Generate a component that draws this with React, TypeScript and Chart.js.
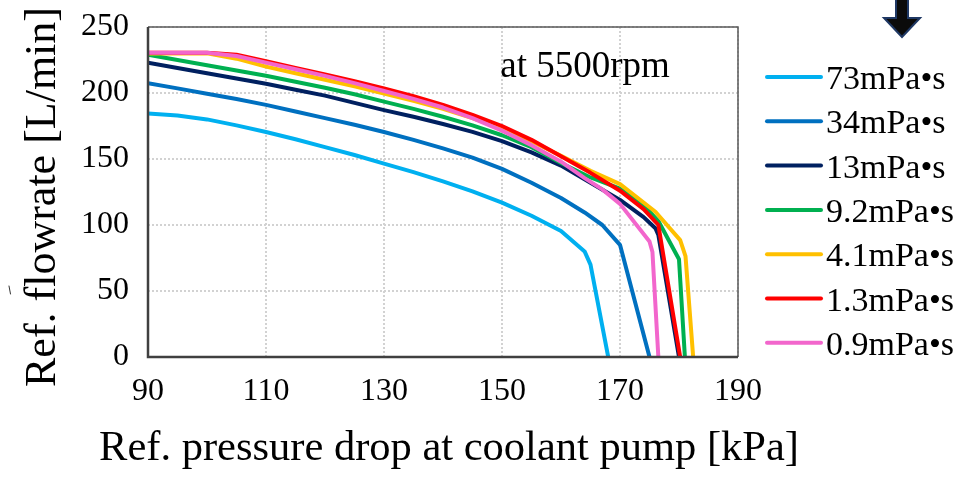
import { useEffect, useRef } from "react";
import { Chart, registerables } from "chart.js";

Chart.register(...registerables);

// Pump characteristic curves at 5500 rpm, one series per coolant viscosity.
const pressureTicks = [90, 110, 130, 150, 170, 190];
const flowTicks = [0, 50, 100, 150, 200, 250];

const xTitle = "Ref. pressure drop at coolant pump [kPa]";
const yTitle = "Ref. flowrate [L/min]";
const noteText = "at 5500rpm";

const seriesLabels = ["73mPa•s", "34mPa•s", "13mPa•s", "9.2mPa•s", "4.1mPa•s", "1.3mPa•s", "0.9mPa•s"];
const seriesColors = ["#00B0F0", "#0070C0", "#002060", "#00B050", "#FFC000", "#FF0000", "#F266CC"];

// Pressure drop [kPa] / flowrate [L/min] pairs
const p73 = [90, 95, 100, 105, 110, 115, 120, 125, 130, 135, 140, 145, 150, 155, 160, 164, 165, 168];
const q73 = [184.5, 183, 180, 175.5, 170.5, 165, 159, 153, 146.5, 140, 133, 125.5, 117, 107, 95.5, 80, 70, 0];

const p34 = [90, 95, 100, 105, 110, 115, 120, 125, 130, 135, 140, 145, 150, 155, 160, 164, 167, 170, 175];
const q34 = [207.5, 203.5, 199.5, 195.5, 191, 186, 181, 176, 170.5, 164.5, 158, 151, 142.5, 132, 120.5, 109.5, 100, 85, 0];

const p13 = [90, 95, 100, 105, 110, 115, 120, 125, 130, 135, 140, 145, 150, 155, 160, 165, 170, 174, 176, 176.5, 180];
const q13 = [223, 219, 215, 211, 207, 202.5, 198, 192.5, 187, 182, 176.5, 170.5, 163.5, 155, 145, 132, 119, 106, 97.5, 92.5, 0];

const p92 = [90, 95, 100, 105, 110, 115, 120, 125, 130, 135, 140, 145, 150, 155, 160, 165, 170, 174, 176.5, 180, 181];
const q92 = [229, 225, 221, 217, 213, 208.5, 204, 199, 193.5, 188, 182, 175.5, 168, 159, 147, 136, 127.5, 115, 103, 74, 0];

const p41 = [90, 95, 100, 105, 110, 115, 120, 125, 130, 135, 140, 145, 150, 155, 160, 165, 170, 176, 180.2, 181.1, 182.4];
const q41 = [230, 230, 230, 226, 220, 215, 210, 205, 199.5, 194, 188, 181, 173, 163.5, 152.5, 141, 131, 110, 88.5, 76.5, 0];

const p13b = [90, 95, 100, 105, 110, 115, 120, 125, 130, 135, 140, 145, 150, 155, 160, 165, 170, 174, 176.5, 180.2];
const q13b = [230.5, 230.5, 230.5, 229, 224, 219, 214, 209, 203.5, 197.5, 191, 183.5, 175, 164.5, 152, 139.5, 126, 112, 100, 0];

const p09 = [90, 95, 100, 105, 110, 115, 120, 125, 130, 135, 140, 145, 150, 155, 160, 164, 167, 170, 175, 175.5, 176.5];
const q09 = [230.5, 230.5, 230.5, 228, 223, 218, 213, 207.5, 201.5, 195.5, 189, 181, 171.5, 160.5, 148, 135.5, 127, 116, 87.5, 79.5, 0];

const seriesPressure = [p73, p34, p13, p92, p41, p13b, p09];
const seriesFlow = [q73, q34, q13, q92, q41, q13b, q09];

const SERIF = "'Liberation Serif', 'Times New Roman', serif";

const decorations = {
  id: "decorations",
  afterDatasetsDraw(chart: any) {
    const { ctx, chartArea: a } = chart;
    ctx.save();
    // plot frame
    ctx.strokeStyle = "#595959";
    ctx.lineWidth = 1.5;
    ctx.beginPath();
    ctx.moveTo(a.left, a.top);
    ctx.lineTo(a.right, a.top);
    ctx.lineTo(a.right, a.bottom);
    ctx.stroke();
    ctx.strokeStyle = "#404040";
    ctx.lineWidth = 2.5;
    ctx.beginPath();
    ctx.moveTo(a.left, a.top);
    ctx.lineTo(a.left, a.bottom);
    ctx.lineTo(a.right, a.bottom);
    ctx.stroke();

    // condition note
    const xs = chart.scales.x;
    const ys = chart.scales.y;
    ctx.fillStyle = "#000";
    ctx.font = `37px ${SERIF}`;
    ctx.textAlign = "left";
    ctx.textBaseline = "alphabetic";
    ctx.fillText(noteText, xs.getPixelForValue(149.7), ys.getPixelForValue(212));
    ctx.restore();
  },
  afterDraw(chart: any) {
    const { ctx, chartArea: a } = chart;
    ctx.save();

    // axis titles
    ctx.fillStyle = "#000";
    ctx.textAlign = "center";
    ctx.textBaseline = "middle";
    ctx.font = `42.5px ${SERIF}`;
    ctx.fillText(xTitle, (a.left + a.right) / 2 + 6, 449);
    ctx.save();
    ctx.translate(43, (a.top + a.bottom) / 2 + 5);
    ctx.rotate(-Math.PI / 2);
    ctx.font = `44px ${SERIF}`;
    ctx.fillText(yTitle, 0, 0);
    ctx.restore();

    // legend on the right
    const lx0 = 767;
    const lx1 = 821;
    const top = 77;
    const step = 44.3;
    ctx.font = `34px ${SERIF}`;
    ctx.textAlign = "left";
    ctx.textBaseline = "alphabetic";
    chart.data.datasets.forEach((ds: any, i: number) => {
      const y = top + i * step;
      ctx.strokeStyle = ds.borderColor;
      ctx.lineWidth = 4;
      ctx.lineCap = "round";
      ctx.beginPath();
      ctx.moveTo(lx0, y);
      ctx.lineTo(lx1, y);
      ctx.stroke();
      ctx.fillStyle = "#000";
      ctx.fillText(ds.label, 826, y + 12);
    });

    // downward arrow
    ctx.beginPath();
    ctx.moveTo(896, -2);
    ctx.lineTo(908, -2);
    ctx.lineTo(908, 18);
    ctx.lineTo(920, 18);
    ctx.lineTo(902, 37);
    ctx.lineTo(884, 18);
    ctx.lineTo(896, 18);
    ctx.closePath();
    ctx.fillStyle = "#0B0B0B";
    ctx.fill();
    ctx.strokeStyle = "#1F3864";
    ctx.lineWidth = 2;
    ctx.lineJoin = "miter";
    ctx.stroke();

    // small stroke at the left margin
    ctx.strokeStyle = "#333";
    ctx.lineWidth = 1;
    ctx.beginPath();
    ctx.moveTo(9, 286);
    ctx.lineTo(10.5, 294);
    ctx.stroke();
    ctx.restore();
  },
};

export default function App() {
  const canvasRef = useRef<HTMLCanvasElement>(null);

  useEffect(() => {
    document.body.style.margin = "0";
    const canvas = canvasRef.current;
    if (!canvas) return;

    const datasets = seriesLabels.map((label, i) => ({
      label,
      data: seriesPressure[i].map((p, j) => ({ x: p, y: seriesFlow[i][j] })),
      borderColor: seriesColors[i],
      backgroundColor: seriesColors[i],
      borderWidth: 4,
      pointRadius: 0,
      tension: 0,
      borderJoinStyle: "round" as const,
      order: seriesLabels.length - i,
    }));

    const chart = new Chart(canvas, {
      type: "line",
      data: { datasets },
      options: {
        animation: false,
        responsive: false,
        devicePixelRatio: 1,
        layout: { padding: { left: 0, top: 27, right: 236, bottom: 0 } },
        plugins: {
          legend: { display: false },
          tooltip: { enabled: false },
        },
        scales: {
          x: {
            type: "linear",
            min: 90,
            max: 190,
            afterBuildTicks: (s: any) => {
              s.ticks = pressureTicks.map((v) => ({ value: v }));
            },
            afterFit: (s: any) => {
              s.height = 120;
              s.paddingLeft = 0;
              s.paddingRight = 0;
            },
            ticks: {
              font: { family: SERIF, size: 32 },
              color: "#000",
              padding: 15,
              maxRotation: 0,
              autoSkip: false,
            },
            grid: { color: "#D2D2D2", lineWidth: 2, drawTicks: false },
            border: { display: false, dash: [2, 2] },
            title: { display: false },
          },
          y: {
            type: "linear",
            min: 0,
            max: 250,
            afterBuildTicks: (s: any) => {
              s.ticks = flowTicks.map((v) => ({ value: v }));
            },
            afterFit: (s: any) => {
              s.width = 148;
              s.paddingTop = 0;
              s.paddingBottom = 0;
            },
            ticks: {
              font: { family: SERIF, size: 32 },
              color: "#000",
              padding: 19,
            },
            grid: { color: "#D2D2D2", lineWidth: 2, drawTicks: false },
            border: { display: false, dash: [2, 2] },
            title: { display: false },
          },
        },
      },
      plugins: [decorations],
    });

    return () => chart.destroy();
  }, []);

  return (
    <div style={{ position: "absolute", left: 0, top: 0, width: 974, height: 477, background: "#fff" }}>
      <canvas ref={canvasRef} width={974} height={477} />
    </div>
  );
}
